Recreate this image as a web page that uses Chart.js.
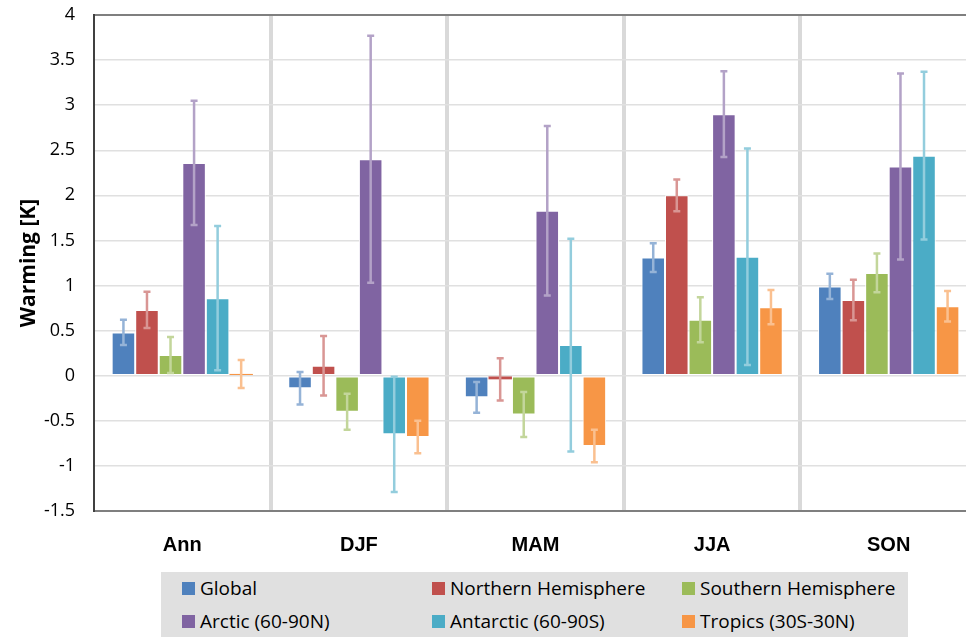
<!DOCTYPE html>
<html>
<head>
<meta charset="utf-8">
<script src="https://cdn.jsdelivr.net/npm/chart.js@4.4.0/dist/chart.umd.min.js"></script>
<style>
  html, body { margin: 0; padding: 0; background: #fff; overflow: hidden; }
  #wrap { position: relative; width: 966px; height: 637px; overflow: hidden; }
  #chart-box { position: absolute; left: 0; top: 0; width: 980px; height: 560px; }
  #legend {
    position: absolute; left: 161px; top: 572px; width: 747px; height: 70px;
    background: #e0e0e0; font-family: "Open Sans", sans-serif; font-size: 19px; color: #000;
  }
  .item { position: absolute; display: flex; align-items: center; white-space: nowrap; }
  .swatch { width: 13px; height: 13px; margin-right: 5px; }
</style>
</head>
<body>
<div id="wrap">
  <div id="chart-box"><canvas id="warming-chart" width="980" height="560"></canvas></div>
  <div id="legend"></div>
</div>
<script>
let seasons = ["Ann", "DJF", "MAM", "JJA", "SON"];
let regionNames = ["Global", "Northern Hemisphere", "Southern Hemisphere", "Arctic (60-90N)", "Antarctic (60-90S)", "Tropics (30S-30N)"];
let barColors = ["#4f81bd", "#c0504d", "#9bbb59", "#8064a2", "#4bacc6", "#f79646"];
let errColors = ["#95b3d7", "#d99694", "#c3d69b", "#b3a2c7", "#93cddd", "#fac090"];

// mean warming per season, one array per region
let globalVals    = [0.48, -0.14, -0.24, 1.31, 0.99];
let northVals     = [0.73,  0.11, -0.04, 2.00, 0.84];
let southVals     = [0.23, -0.40, -0.43, 0.62, 1.14];
let arcticVals    = [2.36,  2.40,  1.83, 2.90, 2.32];
let antarcticVals = [0.86, -0.65,  0.34, 1.32, 2.44];
let tropicsVals   = [0.02, -0.68, -0.78, 0.76, 0.77];

// +/- uncertainty for each bar
let globalErr    = [0.14, 0.18, 0.17, 0.16, 0.14];
let northErr     = [0.20, 0.33, 0.235, 0.175, 0.225];
let southErr     = [0.20, 0.20, 0.25, 0.25, 0.215];
let arcticErr    = [0.69, 1.37, 0.94, 0.475, 1.03];
let antarcticErr = [0.80, 0.64, 1.18, 1.20, 0.93];
let tropicsErr   = [0.155, 0.18, 0.18, 0.19, 0.17];

let yTicks = [4, 3.5, 3, 2.5, 2, 1.5, 1, 0.5, 0, -0.5, -1, -1.5];

let allVals = [globalVals, northVals, southVals, arcticVals, antarcticVals, tropicsVals];
let allErr = [globalErr, northErr, southErr, arcticErr, antarcticErr, tropicsErr];

let datasets = regionNames.map(function (name, i) {
    return {
        label: name,
        data: allVals[i],
        err: allErr[i],
        errColor: errColors[i],
        backgroundColor: barColors[i],
        borderColor: "#ffffff",
        // very thin bars would vanish under a white edge
        borderWidth: function (c) { return Math.abs(c.raw) < 0.08 ? 0 : 1; },
        borderSkipped: false
    };
});

// draws the error bars from the data through the y scale
let errorBars = {
    id: "errorBars",
    afterDatasetsDraw: function (chart) {
        let ctx = chart.ctx;
        let y = chart.scales.y;
        chart.data.datasets.forEach(function (ds, i) {
            let meta = chart.getDatasetMeta(i);
            meta.data.forEach(function (bar, j) {
                let v = ds.data[j], e = ds.err[j];
                let top = y.getPixelForValue(v + e);
                let bot = y.getPixelForValue(v - e);
                ctx.save();
                ctx.strokeStyle = ds.errColor;
                ctx.lineWidth = 2.5;
                ctx.beginPath();
                ctx.moveTo(bar.x, top);
                ctx.lineTo(bar.x, bot);
                ctx.moveTo(bar.x - 3.5, top);
                ctx.lineTo(bar.x + 3.5, top);
                ctx.moveTo(bar.x - 3.5, bot);
                ctx.lineTo(bar.x + 3.5, bot);
                ctx.stroke();
                ctx.restore();
            });
        });
    }
};

let ctx = document.getElementById("warming-chart").getContext("2d");

let warmingChart = new Chart(ctx, {
    type: "bar",
    data: {
        labels: seasons,
        datasets: datasets
    },
    options: {
        responsive: false,
        animation: false,
        layout: { padding: { left: 0, right: 3, top: 0, bottom: 0 } },
        datasets: {
            bar: { categoryPercentage: 0.8, barPercentage: 1.0 }
        },
        plugins: {
            legend: { display: false },
            tooltip: { enabled: false }
        },
        scales: {
            x: {
                grid: {
                    offset: true,
                    drawTicks: false,
                    color: "#d9d9d9",
                    lineWidth: function (c) { return c.index === 0 ? 0 : 4; }
                },
                border: { color: "#7f7f7f", width: 2 },
                ticks: {
                    padding: 22,
                    color: "#000",
                    font: { family: "Liberation Sans", size: 20, weight: "bold" }
                },
                afterFit: function (scale) { scale.height = 49; }
            },
            y: {
                min: -1.5,
                max: 4,
                afterBuildTicks: function (scale) {
                    scale.ticks = yTicks.map(function (t) { return { value: t }; });
                },
                grid: {
                    drawTicks: false,
                    color: function (c) { return c.tick && c.tick.value === 4 ? "#7f7f7f" : "#e0e0e0"; },
                    lineWidth: function (c) { return c.tick && c.tick.value === 4 ? 2 : 1.5; }
                },
                border: { color: "#404040", width: 2 },
                ticks: {
                    padding: 19,
                    color: "#000",
                    font: { family: "Open Sans", size: 18 },
                    callback: function (v) { return String(v); }
                },
                title: {
                    display: true,
                    text: "Warming [K]",
                    color: "#000",
                    padding: { top: 16, bottom: 0 },
                    font: { family: "Open Sans", size: 21, weight: "bold" }
                },
                afterFit: function (scale) {
                    scale.width = 94;
                    scale.paddingTop = 15;
                    scale.paddingBottom = 0;
                }
            }
        }
    },
    plugins: [errorBars]
});

// legend in a 3 column grid, as in the original
let legend = document.getElementById("legend");
regionNames.forEach(function (name, i) {
    let item = document.createElement("div");
    item.className = "item";
    item.style.left = (21 + (i % 3) * 250) + "px";
    item.style.top = (Math.floor(i / 3) * 33 + 3) + "px";
    item.style.height = "26px";
    let sw = document.createElement("span");
    sw.className = "swatch";
    sw.style.background = barColors[i];
    let tx = document.createElement("span");
    tx.textContent = name;
    item.appendChild(sw);
    item.appendChild(tx);
    legend.appendChild(item);
});
</script>
</body>
</html>
